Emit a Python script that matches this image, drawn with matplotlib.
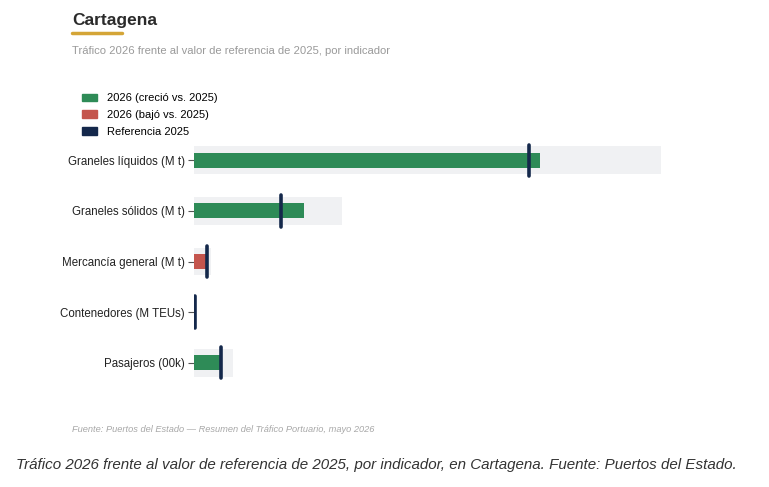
import numpy as np
import matplotlib
matplotlib.use('Agg')
from matplotlib import pyplot as plt
from matplotlib.patches import Patch
from matplotlib.lines import Line2D

plt.rcParams['font.family'] = ['Liberation Sans', 'DejaVu Sans']

indicadores = ["Graneles líquidos (M t)", "Graneles sólidos (M t)", "Mercancía general (M t)",
               "Contenedores (M TEUs)", "Pasajeros (00k)"]
valor_2026 = [32.0, 10.2, 1.08, 0.11, 2.56]
ref_2025 = [31.0, 8.05, 1.18, 0.12, 2.50]
rango = [43.2, 13.7, 1.6, 0.16, 3.6]

VERDE = "#2e8b57"
ROJO = "#c4554d"
AZUL = "#14284b"
FONDO = "#f0f1f3"

W, H = 769, 487
fig = plt.figure(figsize=(W / 100, H / 100), dpi=100)
ax = fig.add_axes([194 / W, 1 - 388 / H, 507.6 / W, 253 / H])

y = np.arange(len(indicadores))
colores = [VERDE if v >= r else ROJO for v, r in zip(valor_2026, ref_2025)]
ax.barh(y, rango, height=0.55, color=FONDO, zorder=1)
ax.barh(y, valor_2026, height=0.3, color=colores, zorder=2)
for yi, r in zip(y, ref_2025):
    ax.plot([r, r], [yi - 0.31, yi + 0.31], color=AZUL, lw=2.6, solid_capstyle='round', zorder=3)

ax.set_xlim(0, 47)
ax.set_ylim(4.5, -0.5)
ax.set_yticks(y)
ax.set_yticklabels(indicadores, fontsize=8.3, color="#222222")
ax.tick_params(axis='y', length=4, color="#555555", pad=2.5)
ax.set_xticks([])
for s in ax.spines.values():
    s.set_visible(False)

# titulo y subtitulo
fig.text(72 / W, 1 - 21 / H, "Cartagena", fontsize=12.5, fontweight='bold', color="#2b2b2b", va='center')
fig.add_artist(Line2D([72 / W, 122 / W], [1 - 33 / H, 1 - 33 / H], color="#d4a537", lw=2.5,
                      solid_capstyle='round'))
fig.text(72 / W, 1 - 51 / H, "Tráfico 2026 frente al valor de referencia de 2025, por indicador",
         fontsize=8.1, color="#9a9a9a", va='center')

handles = [Patch(color=VERDE, label="2026 (creció vs. 2025)"),
           Patch(color=ROJO, label="2026 (bajó vs. 2025)"),
           Patch(color=AZUL, label="Referencia 2025")]
fig.legend(handles=handles, loc='upper left', bbox_to_anchor=(79 / W, 1 - 90 / H), frameon=False,
           fontsize=8, handlelength=1.35, handleheight=0.7, handletextpad=0.9, labelspacing=0.6,
           borderaxespad=0, borderpad=0.3)

fig.text(72 / W, 1 - 429 / H, "Fuente: Puertos del Estado — Resumen del Tráfico Portuario, mayo 2026",
         fontsize=6.7, style='italic', color="#a8a8a8", va='center')
fig.text(376 / W, 1 - 465 / H,
         "Tráfico 2026 frente al valor de referencia de 2025, por indicador, en Cartagena. Fuente: Puertos del Estado.",
         fontsize=10.9, style='italic', color="#333333", va='center', ha='center')

fig.savefig("out.png", dpi=100)
